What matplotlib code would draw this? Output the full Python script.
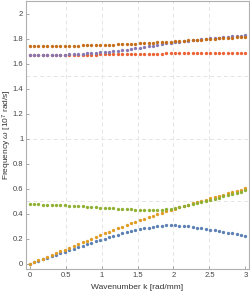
import numpy as np
import matplotlib
matplotlib.use("Agg")
import matplotlib.pyplot as plt

plt.rcParams['font.family'] = ['Liberation Sans', 'DejaVu Sans']
plt.rcParams['mathtext.fontset'] = 'custom'
plt.rcParams['mathtext.it'] = 'Liberation Sans:italic'
plt.rcParams['mathtext.rm'] = 'Liberation Sans'

# wavenumber samples [rad/mm]
k = np.linspace(0, 3, 50)

# branches [10^7 rad/s]
blue = [0.000, 0.012, 0.024, 0.036, 0.048, 0.060, 0.072, 0.084, 0.096, 0.108,
        0.120, 0.132, 0.144, 0.156, 0.168, 0.180, 0.192, 0.203, 0.214, 0.225,
        0.235, 0.245, 0.254, 0.262, 0.270, 0.277, 0.284, 0.290, 0.296, 0.301,
        0.305, 0.308, 0.309, 0.308, 0.306, 0.304, 0.300, 0.296, 0.291, 0.286,
        0.280, 0.275, 0.269, 0.263, 0.257, 0.251, 0.244, 0.237, 0.230, 0.223]
orange = [0.000, 0.014, 0.028, 0.042, 0.057, 0.071, 0.086, 0.100, 0.115, 0.129,
          0.144, 0.158, 0.173, 0.187, 0.202, 0.216, 0.230, 0.244, 0.258, 0.272,
          0.285, 0.298, 0.311, 0.324, 0.336, 0.348, 0.360, 0.372, 0.384, 0.396,
          0.408, 0.420, 0.432, 0.443, 0.454, 0.465, 0.475, 0.485, 0.495, 0.505,
          0.514, 0.524, 0.534, 0.544, 0.554, 0.564, 0.574, 0.584, 0.594, 0.604]
green = [0.476, 0.476, 0.476, 0.475, 0.474, 0.473, 0.472, 0.470, 0.468, 0.466,
         0.464, 0.462, 0.460, 0.458, 0.456, 0.453, 0.451, 0.449, 0.446, 0.444,
         0.442, 0.440, 0.438, 0.436, 0.434, 0.433, 0.432, 0.431, 0.431, 0.432,
         0.434, 0.437, 0.441, 0.446, 0.453, 0.461, 0.469, 0.478, 0.486, 0.494,
         0.502, 0.510, 0.520, 0.530, 0.540, 0.550, 0.559, 0.569, 0.578, 0.588]
red = [1.667, 1.667, 1.667, 1.667, 1.668, 1.668, 1.668, 1.669, 1.669, 1.670,
       1.670, 1.671, 1.671, 1.672, 1.673, 1.673, 1.674, 1.675, 1.675, 1.676,
       1.676, 1.677, 1.677, 1.678, 1.678, 1.679, 1.679, 1.680, 1.680, 1.681,
       1.681, 1.682, 1.682, 1.683, 1.683, 1.683, 1.684, 1.684, 1.684, 1.685,
       1.685, 1.685, 1.685, 1.686, 1.686, 1.686, 1.686, 1.686, 1.686, 1.686]
purple = [1.668, 1.668, 1.668, 1.669, 1.669, 1.670, 1.671, 1.672, 1.673, 1.674,
          1.676, 1.678, 1.680, 1.682, 1.684, 1.687, 1.690, 1.693, 1.696, 1.700,
          1.704, 1.708, 1.713, 1.718, 1.723, 1.728, 1.733, 1.738, 1.744, 1.750,
          1.756, 1.762, 1.767, 1.772, 1.777, 1.781, 1.785, 1.789, 1.793, 1.796,
          1.800, 1.803, 1.806, 1.809, 1.812, 1.815, 1.818, 1.821, 1.824, 1.827]
brown = [1.741, 1.741, 1.741, 1.741, 1.742, 1.742, 1.742, 1.743, 1.743, 1.744,
         1.744, 1.745, 1.746, 1.747, 1.747, 1.748, 1.749, 1.750, 1.752, 1.753,
         1.754, 1.756, 1.757, 1.759, 1.761, 1.763, 1.764, 1.766, 1.768, 1.770,
         1.773, 1.775, 1.777, 1.779, 1.782, 1.784, 1.786, 1.789, 1.791, 1.793,
         1.796, 1.798, 1.800, 1.802, 1.804, 1.806, 1.808, 1.810, 1.812, 1.814]

branches = [blue, orange, green, red, purple, brown]
colors = ['#5E81B5', '#E19C24', '#8FB032', '#EB6235', '#8778B3', '#C56E1A']

xticks = [0, 0.5, 1, 1.5, 2, 2.5, 3]
xticklabels = ['0', '0.5', '1', '1.5', '2', '2.5', '3']
yticks = [0, 0.2, 0.4, 0.6, 0.8, 1, 1.2, 1.4, 1.6, 1.8, 2]
yticklabels = ['0', '0.2', '0.4', '0.6', '0.8', '1', '1.2', '1.4', '1.6', '1.8', '2']

fig = plt.figure(figsize=(2.5, 2.93), dpi=100)
ax = fig.add_axes([0.104, 0.082, 0.892, 0.916])

for v in [0.5, 1, 1.5, 2, 2.5]:
    ax.axvline(v, color='#e4e4e4', lw=0.7, ls=(0, (4, 3)), zorder=0)
for v in [0.5, 1, 1.5]:
    ax.axhline(v, color='#e4e4e4', lw=0.7, ls=(0, (4, 3)), zorder=0)

for y, c in zip(branches, colors):
    ax.plot(k, y, 'o', color=c, ms=2.4, mew=0, zorder=3)

ax.set_xlim(-0.051, 3.05)
ax.set_ylim(-0.04, 2.104)
ax.set_xticks(xticks)
ax.set_xticklabels(xticklabels)
ax.set_yticks(yticks)
ax.set_yticklabels(yticklabels)
ax.tick_params(direction='in', length=2.5, width=0.6, color='#999999',
               labelsize=5.5, labelcolor='#444444', pad=2)

for s in ax.spines.values():
    s.set_color('#b0b0b0')
    s.set_linewidth(0.8)

ax.set_xlabel('Wavenumber k [rad/mm]', fontsize=6, color='#333333', labelpad=4)
ax.set_ylabel(r'Frequency $\omega$ [10$^7$ rad/s]', fontsize=6, color='#333333')
ax.yaxis.set_label_coords(-0.055, 0.5)

fig.savefig('out.png', dpi=100)
